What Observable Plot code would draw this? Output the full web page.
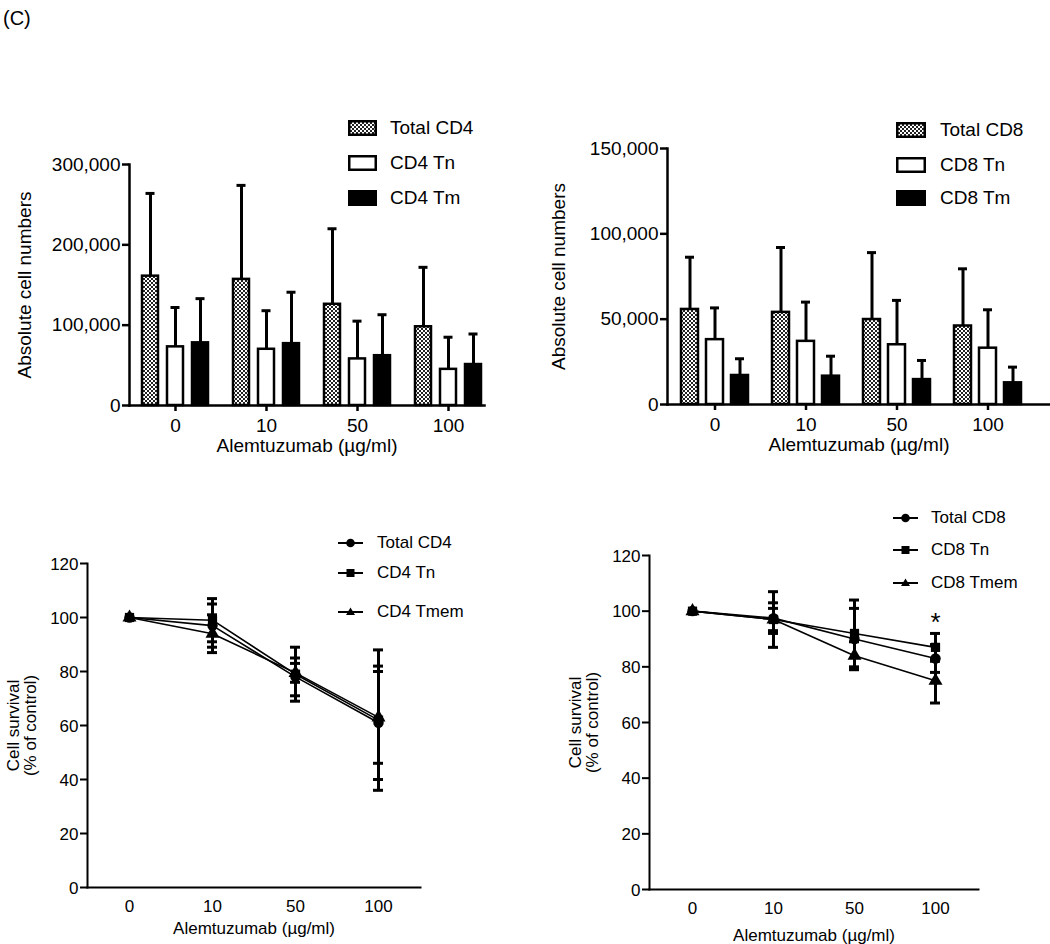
<!DOCTYPE html>
<html><head><meta charset="utf-8">
<script src="https://cdn.jsdelivr.net/npm/d3@7"></script>
<script src="https://cdn.jsdelivr.net/npm/@observablehq/plot@0.6"></script>
<style>
body{margin:0;background:#fff;font-family:"Liberation Sans",Arial,sans-serif;}
#root{position:relative;width:1050px;height:944px;overflow:hidden;background:#fff;color:#000}
.panel{position:absolute}
.lg{position:absolute;height:24px;display:flex;align-items:center;white-space:nowrap;color:#000}
.lg svg{display:block}
</style></head><body>
<svg width="0" height="0" style="position:absolute"><defs>
<pattern id="chk" width="4" height="4" patternUnits="userSpaceOnUse">
<rect width="4" height="4" fill="#fff"/><rect width="2" height="2" fill="#222"/><rect x="2" y="2" width="2" height="2" fill="#222"/>
</pattern></defs></svg>
<div id="root"><div style="position:absolute;left:3px;top:7px;font-size:20px">(C)</div></div>
<script>
// ---------- data ----------
const doses = ["0", "10", "50", "100"];
const xLabel = "Alemtuzumab (\u00b5g/ml)";

// Top-left: CD4 absolute numbers
const cd4BarSeries = ["Total CD4", "CD4 Tn", "CD4 Tm"];
const cd4TotalAbs = [161000, 157000, 126000, 98000];
const cd4TotalAbsErr = [103000, 117000, 94000, 74000];
const cd4TnAbs = [73000, 70000, 58000, 45000];
const cd4TnAbsErr = [49000, 48000, 47000, 40000];
const cd4TmAbs = [78000, 77000, 62000, 51000];
const cd4TmAbsErr = [55000, 64000, 51000, 38000];
const cd4AbsTicks = [0, 100000, 200000, 300000];

// Top-right: CD8 absolute numbers
const cd8BarSeries = ["Total CD8", "CD8 Tn", "CD8 Tm"];
const cd8TotalAbs = [55700, 54000, 49800, 46000];
const cd8TotalAbsErr = [30600, 38000, 39200, 33500];
const cd8TnAbs = [38000, 37000, 35000, 33000];
const cd8TnAbsErr = [18600, 23000, 26000, 22500];
const cd8TmAbs = [17000, 16600, 14600, 12700];
const cd8TmAbsErr = [9800, 11700, 11200, 9200];
const cd8AbsTicks = [0, 50000, 100000, 150000];

// Bottom-left: CD4 survival (% of control)
const cd4LineSeries = ["Total CD4", "CD4 Tn", "CD4 Tmem"];
const cd4TotalSurv = [100, 97, 78, 61];
const cd4TotalSurvErr = [0, 8, 7, 21];
const cd4TnSurv = [100, 99, 79, 62];
const cd4TnSurvErr = [0, 8, 10, 26];
const cd4TmemSurv = [100, 94, 79.5, 63];
const cd4TmemSurvErr = [0, 7, 3.5, 17];

// Bottom-right: CD8 survival (% of control)
const cd8LineSeries = ["Total CD8", "CD8 Tn", "CD8 Tmem"];
const cd8TotalSurv = [100, 97.5, 90, 83];
const cd8TotalSurvErr = [0, 5.5, 11, 5];
const cd8TnSurv = [100, 97, 92, 87];
const cd8TnSurvErr = [0, 10, 12, 5];
const cd8TmemSurv = [100, 97, 84, 75];
const cd8TmemSurvErr = [0, 4, 5, 8];
const survTicks = [0, 20, 40, 60, 80, 100, 120];
const cd8Significant = ["100"]; // dose marked with *

// ---------- helpers ----------
function rowsOf(series, values, errs) {
  const out = [];
  series.forEach((s, i) => doses.forEach((d, j) => out.push({series: s, dose: d, mean: values[i][j], err: errs[i][j]})));
  return out;
}
const root = document.getElementById("root");
function place(el, left, top) { el.classList.add("panel"); el.style.left = left + "px"; el.style.top = top + "px"; root.appendChild(el); }

function barPanel(rows, series, ticks, cfg) {
  const dxs = [-25, 0, 25];
  const marks = [];
  series.forEach((s, i) => {
    const data = rows.filter(r => r.series === s);
    marks.push(Plot.barY(data, {x: "dose", y: "mean", dx: dxs[i], fill: "series", stroke: "#000", strokeWidth: 2.5}));
    marks.push(Plot.ruleX(data, {x: "dose", y1: "mean", y2: d => d.mean + d.err, dx: dxs[i], stroke: "#000", strokeWidth: 3}));
    marks.push(Plot.tickY(data, {x: "dose", y: d => d.mean + d.err, dx: dxs[i], insetLeft: cfg.capInset, insetRight: cfg.capInset, stroke: "#000", strokeWidth: 3}));
  });
  return Plot.plot({
    width: cfg.width, height: cfg.height,
    marginLeft: cfg.ml, marginRight: cfg.mr, marginTop: cfg.mt, marginBottom: cfg.mb,
    style: {fontSize: "19px", fontFamily: '"Liberation Sans", Arial, sans-serif', color: "#000", background: "transparent", overflow: "visible"},
    x: {type: "band", domain: doses, paddingInner: cfg.pi, paddingOuter: cfg.po, align: cfg.align},
    y: {domain: [0, ticks[ticks.length - 1]]},
    color: {domain: series, range: ["url(#chk)", "#fff", "#000"]},
    marks: [
      ...marks,
      Plot.axisY({ticks, tickFormat: d3.format(","), tickSize: 7, tickPadding: 2, strokeWidth: 2.5,
        label: "Absolute cell numbers", labelAnchor: "center", labelOffset: cfg.ylo, labelArrow: false}),
      Plot.axisX({tickSize: 6, tickPadding: 7, strokeWidth: 2.5,
        label: xLabel, labelAnchor: "center", labelOffset: cfg.xlo, labelArrow: false}),
      Plot.frame({anchor: "left", strokeWidth: 2.5}),
      Plot.frame({anchor: "bottom", strokeWidth: 2.5})
    ]
  });
}

function linePanel(rows, series, cfg) {
  const withErr = rows.filter(d => d.err > 0);
  // draw the naive (square) markers last so they sit on top, as in the original
  const dotOrder = [0, 2, 1].flatMap(k => rows.filter(r => r.series === series[k]));
  const marks = [
    Plot.line(rows, {x: "dose", y: "mean", z: "series", stroke: "#000", strokeWidth: 1.6}),
    Plot.ruleX(withErr, {x: "dose", y1: d => d.mean - d.err, y2: d => d.mean + d.err, stroke: "#000", strokeWidth: 3}),
    Plot.tickY(withErr, {x: "dose", y: d => d.mean + d.err, stroke: "#000", strokeWidth: 3}),
    Plot.tickY(withErr, {x: "dose", y: d => d.mean - d.err, stroke: "#000", strokeWidth: 3}),
    Plot.dot(dotOrder, {x: "dose", y: "mean", symbol: "series", fill: "#000", stroke: "none", r: 5.2})
  ];
  if (cfg.stars) {
    const stars = cfg.stars.map(dose => ({dose, top: d3.max(rows.filter(r => r.dose === dose), r => r.mean + r.err), label: "*"}));
    marks.push(Plot.text(stars, {x: "dose", y: "top", text: "label", dy: -11, fontSize: 26, fill: "#000"}));
  }
  return Plot.plot({
    width: cfg.width, height: cfg.height,
    marginLeft: cfg.ml, marginRight: cfg.mr, marginTop: cfg.mt, marginBottom: cfg.mb,
    style: {fontSize: "17px", fontFamily: '"Liberation Sans", Arial, sans-serif', color: "#000", background: "transparent", overflow: "visible"},
    x: {type: "band", domain: doses, paddingInner: cfg.pi, paddingOuter: cfg.po},
    y: {domain: [0, 120]},
    symbol: {domain: series, range: ["circle", "square", "triangle"]},
    marks: [
      ...marks,
      Plot.axisY({ticks: survTicks, tickSize: 7, tickPadding: 2, strokeWidth: 2,
        label: "Cell survival\n(% of control)", labelAnchor: "center", labelOffset: cfg.ylo, labelArrow: false, lineHeight: 1.15}),
      Plot.axisX({tickSize: 0, tickPadding: 12,
        label: xLabel, labelAnchor: "center", labelOffset: cfg.xlo, labelArrow: false}),
      Plot.frame({anchor: "left", strokeWidth: 2}),
      Plot.frame({anchor: "bottom", strokeWidth: 2})
    ]
  });
}

// ---------- panels ----------
place(barPanel(rowsOf(cd4BarSeries, [cd4TotalAbs, cd4TnAbs, cd4TmAbs], [cd4TotalAbsErr, cd4TnAbsErr, cd4TmAbsErr]), cd4BarSeries, cd4AbsTicks,
  {width: 500, height: 310, ml: 129, mr: 16, mt: 14, mb: 55, pi: 0.825, po: 0.357, align: 0.57, capInset: 3.5, ylo: 112, xlo: 46}), 0, 150);

place(barPanel(rowsOf(cd8BarSeries, [cd8TotalAbs, cd8TnAbs, cd8TmAbs], [cd8TotalAbsErr, cd8TnAbsErr, cd8TmAbsErr]), cd8BarSeries, cd8AbsTicks,
  {width: 530, height: 330, ml: 147, mr: 0, mt: 18, mb: 56, pi: 0.814, po: 0.507, align: 0.42, capInset: 4, ylo: 116, xlo: 46}), 520, 130);

place(linePanel(rowsOf(cd4LineSeries, [cd4TotalSurv, cd4TnSurv, cd4TmemSurv], [cd4TotalSurvErr, cd4TnSurvErr, cd4TmemSurvErr]), cd4LineSeries,
  {width: 440, height: 404, ml: 87, mr: 20, mt: 23, mb: 57, pi: 0.88, po: 0.44, ylo: 81, xlo: 46}), 0, 540);

place(linePanel(rowsOf(cd8LineSeries, [cd8TotalSurv, cd8TnSurv, cd8TmemSurv], [cd8TotalSurvErr, cd8TnSurvErr, cd8TmemSurvErr]), cd8LineSeries,
  {width: 530, height: 404, ml: 129, mr: 72, mt: 15, mb: 55, pi: 0.878, po: 0.45, ylo: 81, xlo: 51, stars: cd8Significant}), 520, 540);

// ---------- legends ----------
const barFills = ["url(#chk)", "#fff", "#000"];
function barLegend(series, left, textLeft, rows, swW) {
  series.forEach((s, i) => {
    const div = document.createElement("div");
    div.className = "lg";
    div.style.left = left + "px"; div.style.top = (rows[i] - 12) + "px"; div.style.fontSize = "19px";
    div.innerHTML = `<svg width="${swW}" height="16"><rect x="1.25" y="1.25" width="${swW - 2.5}" height="13.5" fill="${barFills[i]}" stroke="#000" stroke-width="2.5"/></svg><span style="margin-left:${textLeft - left - swW}px">${s}</span>`;
    root.appendChild(div);
  });
}
const symPaths = {
  circle: `<circle cx="12.5" cy="8" r="4.3" fill="#000"/>`,
  square: `<rect x="8.5" y="4" width="8" height="8" fill="#000"/>`,
  triangle: `<path d="M12.5,3.5 L17,11 L8,11 Z" fill="#000"/>`
};
function lineLegend(series, left, textLeft, rows) {
  const syms = ["circle", "square", "triangle"];
  series.forEach((s, i) => {
    const div = document.createElement("div");
    div.className = "lg";
    div.style.left = left + "px"; div.style.top = (rows[i] - 12) + "px"; div.style.fontSize = "17px";
    div.innerHTML = `<svg width="25" height="16"><line x1="0" y1="8" x2="25" y2="8" stroke="#000" stroke-width="2"/>${symPaths[syms[i]]}</svg><span style="margin-left:${textLeft - left - 25}px">${s}</span>`;
    root.appendChild(div);
  });
}
barLegend(cd4BarSeries, 348, 390, [128, 163, 198], 29);
barLegend(cd8BarSeries, 896, 940, [130, 165, 198], 30);
lineLegend(cd4LineSeries, 338, 377, [543, 573, 612]);
lineLegend(cd8LineSeries, 893, 931, [518, 550, 583]);
</script>
</body></html>
